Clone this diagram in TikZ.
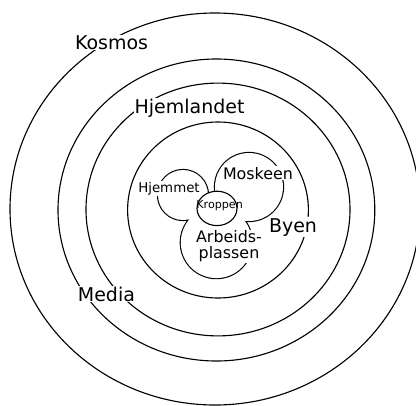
\documentclass[tikz,border=0pt]{standalone}
\usepackage{fontspec}
\setmainfont{DejaVu Sans}

\begin{document}
\begin{tikzpicture}[line width=0.8pt,
    lbl/.style={fill=white, inner sep=0.6pt, anchor=base},
    ring/.style={lbl, font=\fontsize{13.5}{16}\selectfont},
    place/.style={lbl, font=\fontsize{11.3}{11.6}\selectfont}]
  \useasboundingbox (-5.45,-4.875) rectangle (4.95,5.25);
  % rings, outer to inner
  \draw (-0.075,0.025) ellipse (5.125 and 4.9);
  \draw (-0.04,0) ellipse (3.96 and 3.775);
  \draw (0,0.0125) ellipse (3.3 and 3.16);
  \draw (0,0) ellipse (2.26 and 2.2);
  % petal centres
  \coordinate (hjem) at (-0.875,0.375);
  \coordinate (mosk) at (0.775,0.575);
  \coordinate (arb)  at (-0.04,-0.8125);
  \coordinate (kropp) at (-0.025,0.04);
  % thick stroke, then white fill: only the outline of the union is left
  \draw[line width=1.6pt] (hjem) circle (0.625) (mosk) circle (0.85) (arb) circle (0.89);
  \fill[white] (hjem) circle (0.625) (mosk) circle (0.85) (arb) circle (0.89);
  \draw[fill=white] (kropp) ellipse (0.5 and 0.43);
  % labels
  \node[ring] (kosmos) at (-2.66,4.02) {Kosmos};
  \node[ring] (hjemland) at (-0.71,2.425) {Hjemlandet};
  \node[ring] (media) at (-2.79,-2.275) {Media};
  \node[ring] (byen) at (1.875,-0.55) {Byen};
  \node[place] (moskeen) at (1.0,0.775) {Moskeen};
  \node[place, anchor=center, align=center] (arbeid) at (0.275,-0.91) {Arbeids-\\plassen};
  \node[lbl, font=\fontsize{9.5}{11}\selectfont] (hjemmet) at (-1.225,0.45) {Hjemmet};
  \node[lbl, fill=none, font=\fontsize{7.9}{9}\selectfont] (kroppen) at (0.04,0.05) {Kroppen};
\end{tikzpicture}
\end{document}
